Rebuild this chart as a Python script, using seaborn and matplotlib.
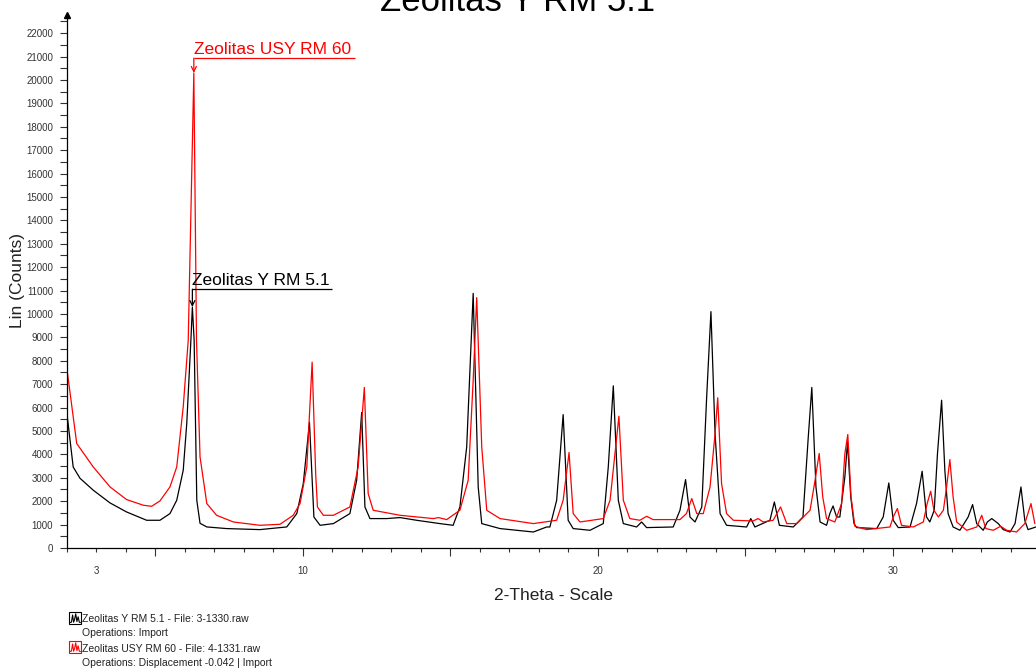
import numpy as np
import pandas as pd
import matplotlib
matplotlib.use("Agg")
import matplotlib.pyplot as plt
import seaborn as sns
from matplotlib.ticker import MultipleLocator, FixedLocator, FuncFormatter
from matplotlib.lines import Line2D
from matplotlib.patches import Rectangle

# ---------------- data ----------------
y_theta = [2.00, 2.21, 2.44, 2.89, 3.46, 4.02, 4.70, 5.15, 5.49, 5.72, 5.94, 6.06, 6.20, 6.25, 6.31,
           6.40, 6.51, 6.74, 7.41, 8.54, 9.45, 9.79, 10.01, 10.22, 10.37, 10.58, 11.03, 11.59, 11.82,
           11.99, 12.10, 12.27, 12.84, 13.29, 13.85, 14.64, 15.09, 15.32, 15.55, 15.77, 15.94, 16.06,
           16.68, 17.81, 18.26, 18.37, 18.60, 18.82, 18.99, 19.16, 19.73, 20.18, 20.35, 20.52, 20.69,
           20.86, 21.31, 21.48, 21.65, 22.55, 22.78, 22.97, 23.12, 23.29, 23.52, 23.68, 23.83, 23.97,
           24.14, 24.36, 25.04, 25.18, 25.32, 25.83, 25.98, 26.15, 26.62, 26.95, 27.13, 27.25, 27.39,
           27.53, 27.75, 27.86, 27.97, 28.09, 28.20, 28.37, 28.46, 28.57, 28.68, 28.77, 29.45, 29.67,
           29.86, 30.01, 30.18, 30.58, 30.80, 30.99, 31.14, 31.25, 31.40, 31.51, 31.65, 31.76, 31.87,
           32.04, 32.27, 32.55, 32.70, 32.84, 33.06, 33.20, 33.35, 33.57, 33.74, 33.97, 34.14, 34.34,
           34.47, 34.58, 34.85]
y_counts = [5720, 3460, 2980, 2470, 1925, 1540, 1185, 1185, 1470, 2040, 3320, 5320, 8880, 10300, 8880,
            2040, 1055, 900, 830, 786, 900, 1470, 2750, 5370, 1325, 970, 1043, 1470, 2894,
            5790, 1753, 1257, 1257, 1300, 1185, 1043, 970, 1753, 4318, 10880, 2608, 1043,
            830, 684, 898, 898, 2040, 5700, 1185, 830, 757, 1043, 3463, 6930, 2040,
            1043, 898, 1112, 872, 898, 1612, 2924, 1325, 1112, 1753, 6315, 10100, 4890,
            1470, 970, 898, 1257, 898, 1185, 1967, 970, 898, 1325, 4745, 6860, 2608,
            1112, 970, 1470, 1796, 1325, 1325, 3036, 4532, 2180, 1043, 872, 830, 1325,
            2779, 1185, 872, 898, 1898, 3280, 1325, 1112, 1612, 4036, 6315, 3322, 1470,
            898, 757, 1325, 1856, 1043, 757, 1112, 1257, 1043, 786, 684, 1043, 2608,
            1185, 786, 898]

usy_theta = [2.01, 2.33, 2.89, 3.46, 4.02, 4.59, 4.87, 5.15, 5.49, 5.72, 5.94, 6.11, 6.30, 6.39, 6.51,
             6.74, 7.07, 7.64, 8.54, 9.22, 9.67, 9.90, 10.13, 10.31, 10.43, 10.49, 10.69, 11.03, 11.59,
             11.87, 12.08, 12.21, 12.38, 13.29, 14.42, 14.59, 14.87, 15.32, 15.60, 15.77, 15.89, 16.06,
             16.23, 16.68, 17.81, 18.60, 18.82, 19.02, 19.16, 19.39, 20.18, 20.41, 20.71, 20.86, 21.08,
             21.42, 21.65, 21.87, 22.78, 23.00, 23.18, 23.35, 23.57, 23.80, 23.97, 24.06, 24.19, 24.36,
             24.59, 25.26, 25.43, 25.60, 25.94, 26.19, 26.40, 26.74, 27.19, 27.36, 27.50, 27.62, 27.75,
             28.03, 28.26, 28.37, 28.47, 28.58, 28.71, 29.11, 29.90, 30.01, 30.15, 30.29, 30.69, 31.03,
             31.16, 31.28, 31.39, 31.54, 31.71, 31.82, 31.93, 32.04, 32.16, 32.50, 32.84, 33.01, 33.15,
             33.40, 33.65, 33.86, 34.19, 34.47, 34.68, 34.81]
usy_counts = [7525, 4463, 3463, 2608, 2070, 1826, 1783, 2010, 2608, 3463, 6029, 8880, 20300, 8880, 3890,
              1898, 1398, 1112, 970, 1013, 1398, 1898, 3463, 7940, 3190, 1753, 1398, 1398, 1753,
              3463, 6860, 2325, 1612, 1398, 1257, 1300, 1214, 1612, 2894, 7170, 10700, 4318,
              1612, 1257, 1043, 1185, 2040, 4080, 1470, 1112, 1257, 2040, 5630, 2040, 1257,
              1185, 1355, 1214, 1214, 1470, 2112, 1470, 1470, 2608, 4890, 6420, 2753, 1470,
              1185, 1155, 1257, 1112, 1185, 1753, 1043, 1043, 1612, 2894, 4040, 2180, 1257,
              1112, 1898, 4036, 4850, 2180, 928, 786, 898, 1325, 1685, 970, 898, 1112,
              1898, 2424, 1612, 1325, 1612, 2608, 3780, 2180, 1112, 757, 898, 1398, 830,
              757, 928, 757, 684, 1043, 1898, 1043]

series_names = ["Zeolitas Y RM 5.1", "Zeolitas USY RM 60"]
series_colors = ["black", "red"]
legend_lines = ["Zeolitas Y RM 5.1 - File: 3-1330.raw",
                "Operations: Import",
                "Zeolitas USY RM 60 - File: 4-1331.raw",
                "Operations: Displacement -0.042 | Import"]
x_labelled_ticks = [3, 10, 20, 30]
chart_title = "Zeolitas Y RM 5.1"
x_title = "2-Theta - Scale"
y_title = "Lin (Counts)"

# ---------------- figure ----------------
sns.set_style("ticks")
plt.rcParams["font.family"] = ["Liberation Sans", "DejaVu Sans"]

W, H = 1036, 672
fig = plt.figure(figsize=(W / 100, H / 100), dpi=100)
ax = fig.add_axes([67 / W, 1 - 548 / H, 1 - 67 / W, (548 - 15) / H])

df = pd.concat([
    pd.DataFrame({"theta": y_theta, "counts": y_counts, "sample": series_names[0]}),
    pd.DataFrame({"theta": usy_theta, "counts": usy_counts, "sample": series_names[1]}),
], ignore_index=True)

sns.lineplot(data=df, x="theta", y="counts", hue="sample",
             palette=dict(zip(series_names, series_colors)),
             estimator=None, sort=False, legend=False, linewidth=0.9, ax=ax)

ax.set_xlim(2.0, 34.85)
ax.set_ylim(0, 22775)
ax.set_xlabel("")
ax.set_ylabel("")
ax.spines[["top", "right"]].set_visible(False)
for s in ["left", "bottom"]:
    ax.spines[s].set_color("black")
    ax.spines[s].set_linewidth(0.9)

# y ticks
ax.yaxis.set_major_locator(MultipleLocator(1000))
ax.yaxis.set_minor_locator(MultipleLocator(500))
ax.tick_params(axis="y", which="both", length=5, width=0.8, pad=5,
               labelsize=7, color="#333333", labelcolor="#333333")

# x ticks
ax.xaxis.set_major_locator(FixedLocator([5, 10, 15, 20, 25, 30]))
ax.xaxis.set_major_formatter(FuncFormatter(
    lambda v, p: str(int(round(v))) if int(round(v)) in x_labelled_ticks else ""))
ax.xaxis.set_minor_locator(FixedLocator(list(range(2, 35))))
ax.xaxis.set_minor_formatter(FuncFormatter(
    lambda v, p: str(int(round(v))) if int(round(v)) in x_labelled_ticks else ""))
ax.tick_params(axis="x", which="major", length=5.8, width=0.8, pad=7,
               labelsize=7, color="#333333", labelcolor="#333333")
ax.tick_params(axis="x", which="minor", length=2.9, width=0.8, pad=9.9,
               labelsize=7, color="#333333", labelcolor="#333333")

# arrow at top of y axis
ax.plot([0], [1], marker="^", color="black", markersize=5, transform=ax.transAxes, clip_on=False)

# peak annotations (both on the strongest USY reflection near 6.3 deg)
px_per_unit_y = (548 - 15) / 22775.0
ref_theta = usy_theta[int(np.argmax(usy_counts))]

def annotate_peak(theta, counts, color, label, y_line, line_len):
    th = np.asarray(theta)
    ct = np.asarray(counts)
    near = np.where(np.abs(th - ref_theta) < 0.3)[0]
    i = near[int(np.argmax(ct[near]))]
    xp, yp = th[i], ct[i]
    ax.annotate("", xy=(xp, yp), xytext=(xp, y_line),
                arrowprops=dict(arrowstyle="->", color=color, lw=0.9,
                                shrinkA=0, shrinkB=0, mutation_scale=9))
    ax.plot([xp, xp + line_len], [y_line, y_line], color=color, lw=0.9, solid_capstyle="butt")
    ax.text(xp, y_line + 4 / px_per_unit_y, label, color=color, fontsize=12.5,
            ha="left", va="baseline")

annotate_peak(usy_theta, usy_counts, "red", series_names[1], 20935, 5.46)
annotate_peak(y_theta, y_counts, "black", series_names[0], 11060, 4.75)

# titles
fig.text(0.5, 1 - 11 / H, chart_title, ha="center", va="baseline", fontsize=25, color="black")
fig.text(554 / W, 1 - 596 / H, x_title, ha="center", va="center", fontsize=12.5, color="#222222")
fig.text(17.5 / W, 1 - 281 / H, y_title, ha="center", va="center", rotation=90,
         fontsize=12.5, color="#222222")

# legend block
baselines = [622.5, 636.5, 652, 666]
for txt, yb in zip(legend_lines, baselines):
    fig.text(82 / W, 1 - yb / H, txt, ha="left", va="baseline", fontsize=7.5, color="#222222")

icon_rel_x = [0.05, 0.2, 0.3, 0.38, 0.46, 0.56, 0.66, 0.76, 0.86, 0.95]
icon_rel_y = [0.12, 0.15, 0.75, 0.15, 0.35, 0.85, 0.2, 0.6, 0.15, 0.12]
for color, top in zip(series_colors, [612, 641]):
    x0, x1, y0, y1 = 69, 81, top, top + 12
    fig.add_artist(Rectangle((x0 / W, 1 - y1 / H), (x1 - x0) / W, (y1 - y0) / H,
                             transform=fig.transFigure, fill=False, edgecolor=color, lw=0.8))
    xs = [(x0 + r * (x1 - x0)) / W for r in icon_rel_x]
    ys = [1 - (y1 - r * (y1 - y0)) / H for r in icon_rel_y]
    fig.add_artist(Line2D(xs, ys, transform=fig.transFigure, color=color, lw=0.8))

fig.savefig("out.png", dpi=100)
